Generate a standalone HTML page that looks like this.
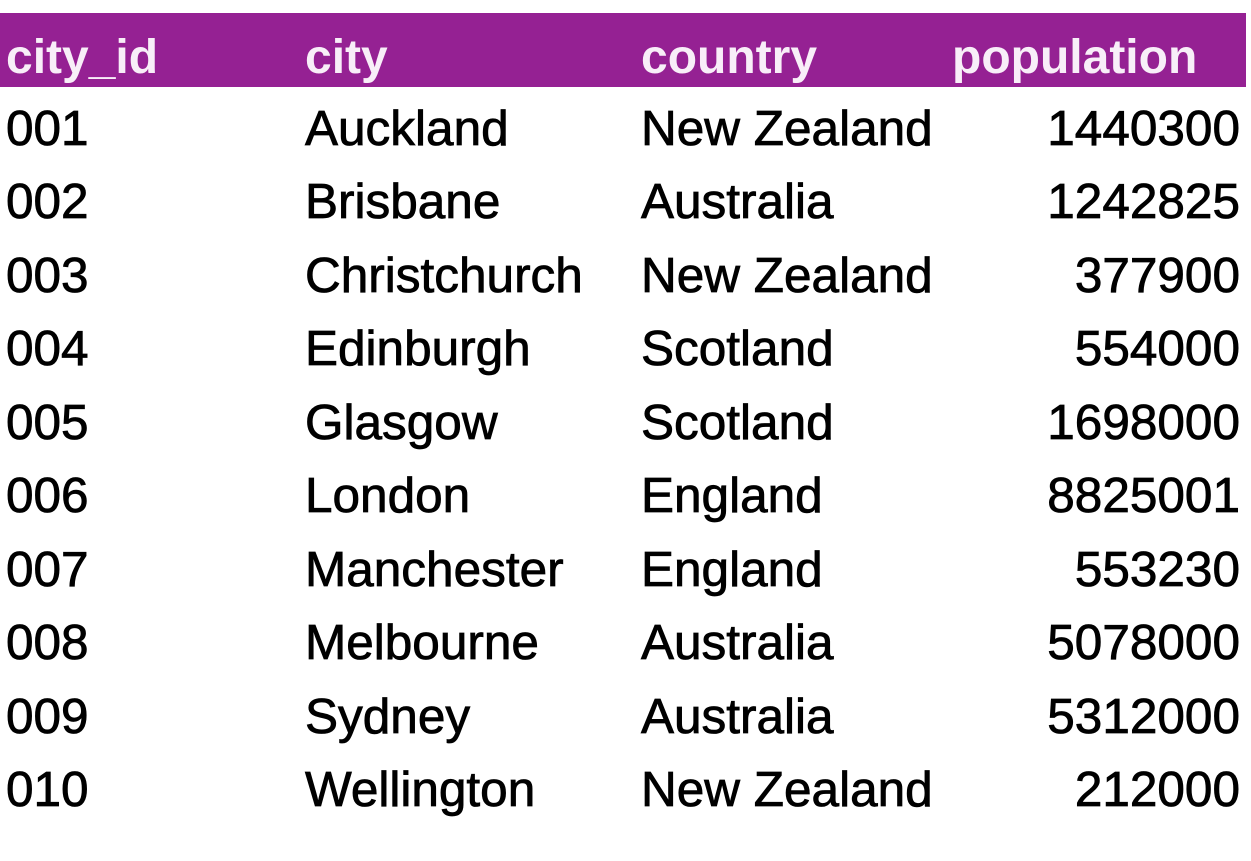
<!DOCTYPE html>
<html><head><meta charset="utf-8"><style>
body{margin:0;width:1251px;height:861px;background:#fff;overflow:hidden;position:relative;font-family:"Liberation Sans",sans-serif;}
#hdr{position:absolute;left:0;top:13px;width:1246px;height:74px;background:#952193;}
.c{position:absolute;font-size:49.5px;line-height:50px;white-space:nowrap;color:#000;-webkit-text-stroke:0.8px #000;}
.h{color:#f8eef8;font-weight:bold;font-size:48px;-webkit-text-stroke:0;}
.r{text-align:right;width:400px;}
</style></head><body>
<div id="hdr"></div>
<div id="t"></div>
<script>
const ids=["001","002","003","004","005","006","007","008","009","010"];
const cities=["Auckland","Brisbane","Christchurch","Edinburgh","Glasgow","London","Manchester","Melbourne","Sydney","Wellington"];
const countries=["New Zealand","Australia","New Zealand","Scotland","Scotland","England","England","Australia","Australia","New Zealand"];
const pops=["1440300","1242825","377900","554000","1698000","8825001","553230","5078000","5312000","212000"];
const headers=["city_id","city","country","population"];
const t=document.getElementById('t');
const xs=[6,305,641,840];
const hxs=[6,305,641,952];
function cell(txt,x,y,cls,name){
  const d=document.createElement('div');
  d.className='c '+cls;
  d.style.left=x+'px';d.style.top=y+'px';
  d.textContent=txt;
  
  
  t.appendChild(d);
}
headers.forEach((h,i)=>cell(h,hxs[i],33,'h','header-'+h.replace('_','-')));
for(let i=0;i<ids.length;i++){
  const y=103.5+i*73.5;
  cell(ids[i],xs[0],y,'','city-id-cell');
  cell(cities[i],xs[1],y,'','city-cell');
  cell(countries[i],xs[2],y,'','country-cell');
  cell(pops[i],xs[3],y,'r','population-cell');
}
</script>
</body></html>
